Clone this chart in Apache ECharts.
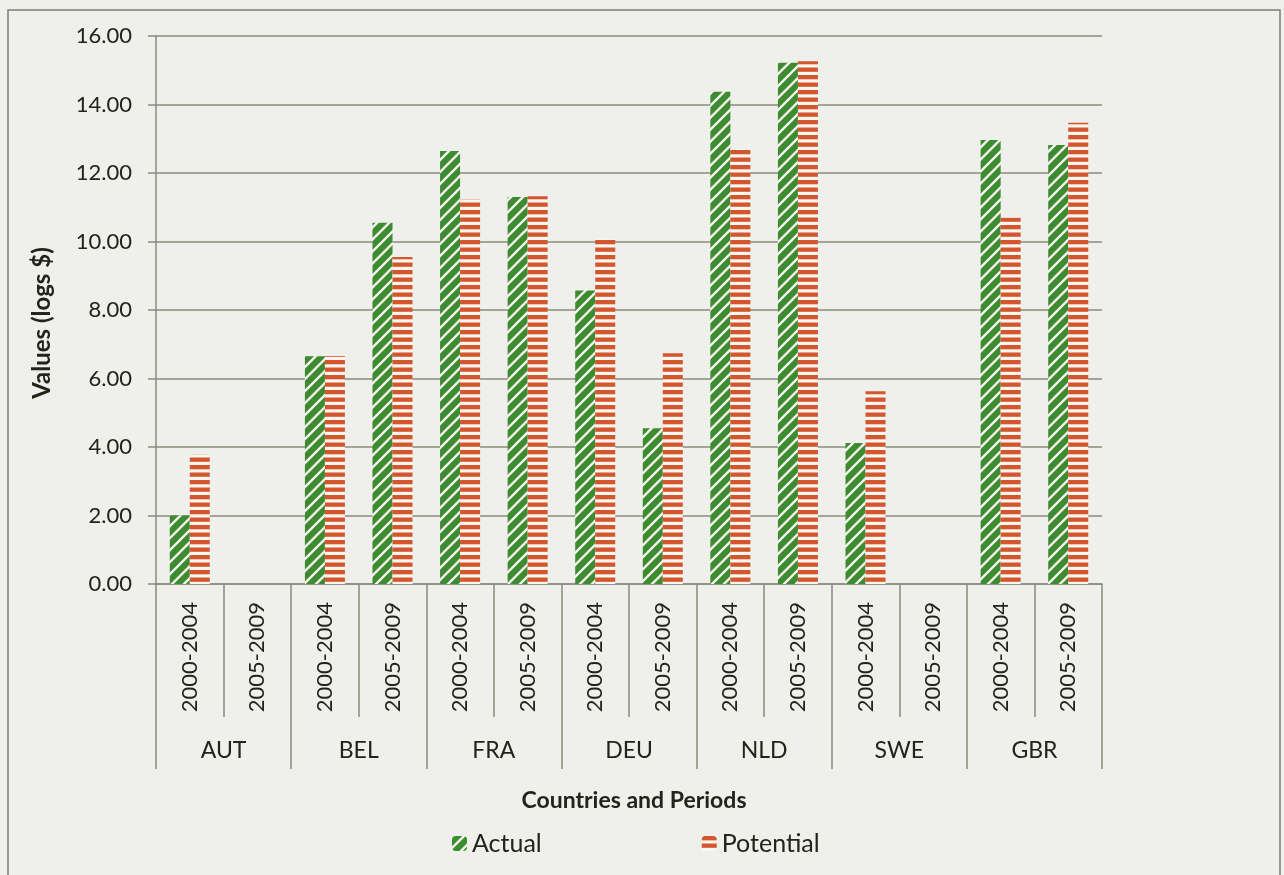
<!DOCTYPE html>
<html>
<head>
<meta charset="utf-8">
<script src="https://cdn.jsdelivr.net/npm/echarts@6/dist/echarts.min.js"></script>
<style>
  html, body { margin: 0; padding: 0; background: #efefeb; }
  #chart { width: 1284px; height: 875px; }
</style>
</head>
<body>
<div id="chart"></div>
<script>
// Countries, periods and the two series (logs $)
const countries = ['AUT', 'BEL', 'FRA', 'DEU', 'NLD', 'SWE', 'GBR'];
const periodPair = ['2000-2004', '2005-2009'];
const periods = countries.flatMap(() => periodPair);
const actual    = [2.00, null, 6.65, 10.55, 12.64, 11.30, 8.57, 4.55, 14.37, 15.22, 4.12, null, 12.96, 12.82];
const potential = [3.78, null, 6.66, 9.55, 11.24, 11.32, 10.09, 6.74, 12.70, 15.26, 5.63, null, 10.69, 13.47];

const GREEN = '#3d8a30';
const RED = '#d4562f';
const TEXT = '#23231a';
const LINE = '#8b8b7d';
const FONT = 'Lato, "Open Sans", sans-serif';

// Upward diagonal white stripes on green
function diagonalPattern() {
  const s = 12;
  const c = document.createElement('canvas');
  c.width = s; c.height = s;
  const g = c.getContext('2d');
  g.fillStyle = GREEN;
  g.fillRect(0, 0, s, s);
  g.strokeStyle = '#f4f6ee';
  g.lineWidth = 2.4;
  [0, s, 2 * s].forEach(k => {
    g.beginPath();
    g.moveTo(-2, k + 2);
    g.lineTo(s + 2, k - s - 2);
    g.stroke();
  });
  return c;
}

// Horizontal red bands on white
function horizontalPattern() {
  const c = document.createElement('canvas');
  c.width = 8; c.height = 15;
  const g = c.getContext('2d');
  g.fillStyle = '#faf6f0';
  g.fillRect(0, 0, 8, 15);
  g.fillStyle = RED;
  g.fillRect(0, 0, 8, 4.3);
  g.fillRect(0, 7.5, 8, 4.3);
  return c;
}

const chart = echarts.init(document.getElementById('chart'), null, { renderer: 'canvas' });

chart.setOption({
  backgroundColor: '#efefeb',
  animation: false,
  textStyle: { fontFamily: FONT, color: TEXT },
  grid: { left: 156, right: 182, top: 36, bottom: 291, containLabel: false },
  legend: {
    left: 447, top: 826,
    itemWidth: 15, itemHeight: 15, itemGap: 160,
    icon: 'roundRect',
    textStyle: { fontSize: 25, color: TEXT, fontFamily: FONT },
    data: ['Actual', 'Potential']
  },
  xAxis: [
    {
      type: 'category',
      data: periods,
      position: 'bottom',
      axisLine: { show: true, lineStyle: { color: LINE, width: 1.5 } },
      axisTick: { show: true, interval: 0, length: 133, lineStyle: { color: LINE, width: 1.5 } },
      axisLabel: { interval: 0, rotate: 90, margin: 18, fontSize: 22, color: TEXT, fontFamily: FONT },
      splitLine: { show: false }
    },
    {
      type: 'category',
      data: countries,
      position: 'bottom',
      axisLine: { show: false },
      axisTick: { show: true, interval: 0, length: 185, lineStyle: { color: LINE, width: 1.5 } },
      axisLabel: { interval: 0, margin: 155, fontSize: 23, color: TEXT, fontFamily: FONT },
      splitLine: { show: false }
    }
  ],
  yAxis: {
    type: 'value',
    min: 0, max: 16, interval: 2,
    axisLine: { show: true, lineStyle: { color: LINE, width: 1.5 } },
    axisTick: { show: true, length: 8, lineStyle: { color: LINE, width: 1.5 } },
    axisLabel: { margin: 24, fontSize: 22, color: TEXT, fontFamily: FONT, formatter: v => v.toFixed(2) },
    splitLine: { show: true, lineStyle: { color: LINE, width: 1.5 } }
  },
  series: [
    {
      name: 'Actual', type: 'bar', xAxisIndex: 0,
      barWidth: 20, barGap: '0%',
      itemStyle: { color: { image: diagonalPattern(), repeat: 'repeat' } },
      data: actual
    },
    {
      name: 'Potential', type: 'bar', xAxisIndex: 0,
      barWidth: 20, barGap: '0%',
      itemStyle: { color: { image: horizontalPattern(), repeat: 'repeat' } },
      data: potential
    }
  ],
  graphic: [
    {
      type: 'rect', silent: true, z: -1,
      shape: { x: 8, y: 10, width: 1272, height: 900 },
      style: { fill: null, stroke: '#7d7d72', lineWidth: 1.5 }
    },
    {
      type: 'text', silent: true,
      x: 42, y: 323, rotation: Math.PI / 2,
      style: {
        text: 'Values (logs $)', fill: TEXT,
        font: 'bold 24px ' + FONT,
        align: 'center', verticalAlign: 'middle'
      }
    },
    {
      type: 'text', silent: true,
      x: 634, y: 801,
      style: {
        text: 'Countries and Periods', fill: TEXT,
        font: 'bold 23px ' + FONT,
        align: 'center', verticalAlign: 'middle'
      }
    }
  ]
});
</script>
</body>
</html>
